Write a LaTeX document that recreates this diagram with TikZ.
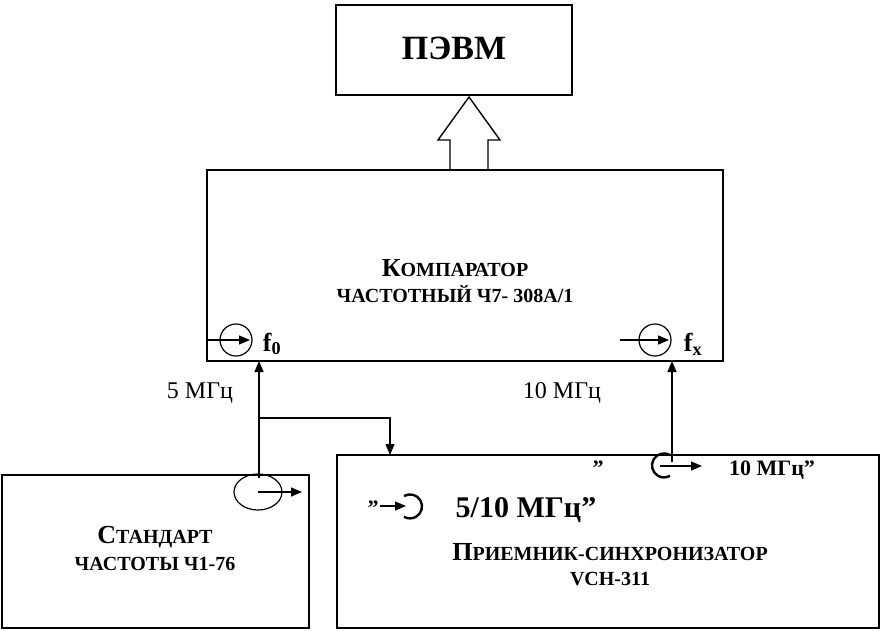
\documentclass[tikz,border=0pt]{standalone}
\usepackage{fontspec}
\setmainfont{Liberation Serif}
\usetikzlibrary{arrows.meta}
\tikzset{block/.style={draw, line width=1.4pt, inner sep=0pt},
  sig/.style={-{Triangle[length=11pt,width=9pt]}, line width=1.2pt},
  lbl/.style={font=\fontsize{24}{26}\selectfont},
  sc/.style={font=\fontsize{20}{22}\selectfont\bfseries}}
\newcommand{\capl}[1]{{\fontsize{26}{28}\selectfont #1}}
\newcommand{\qd}{\symbol{34}}
\begin{document}
\begin{tikzpicture}[x=1pt, y=-1pt]
    \useasboundingbox (0,0) rectangle (881,630);
    % blocks
    \draw [block] (336,5) rectangle (572,95);
    \node [font=\fontsize{34}{36}\selectfont\bfseries] (pevm) at (454,48) {ПЭВМ};
    \draw [block] (207,170) rectangle (723,361);
    \node [sc] (komp1) at (455,268) {\capl{К}ОМПАРАТОР};
    \node [sc] (komp2) at (455,294) {ЧАСТОТНЫЙ Ч7- 308А/1};
    \draw [block] (2,475) rectangle (309,628);
    \node [sc] (st1) at (155,537) {\capl{С}ТАНДАРТ};
    \node [sc] (st2) at (155,564) {ЧАСТОТЫ Ч1-76};
    \draw [block] (337,455) rectangle (879,628);
    \node [sc] (pr1) at (610,552) {\capl{П}РИЕМНИК-СИНХРОНИЗАТОР};
    \node [sc] (pr2) at (610,579) {VCH-311};
    % hollow bus arrow
    \draw [line width=1.4pt] (450,170) -- (450,140) -- (438,140) -- (469,97)
        -- (500,140) -- (488,140) -- (488,170);
    % connectors
    \coordinate (src) at (259,478);
    \coordinate (in0) at (259,361);
    \coordinate (brk) at (259,418);
    \coordinate (rin) at (390,455);
    \coordinate (rout) at (672,462);
    \coordinate (inx) at (672,361);
    \draw [sig] (src) -- (in0);
    \draw [sig] (brk) -| (rin);
    \draw [sig] (rout) -- (inx);
    % port symbols
    \draw [line width=1.2pt] (236,340) circle [radius=16pt];
    \draw [sig] (207,340) -- (250,340);
    \node [font=\fontsize{26}{28}\selectfont\bfseries] (f0) at (272,344) {f\textsubscript{0}};
    \draw [line width=1.2pt] (655,340) circle [radius=16pt];
    \draw [sig] (620,340) -- (669,340);
    \node [font=\fontsize{26}{28}\selectfont\bfseries] (fx) at (693,344) {f\textsubscript{x}};
    \draw [line width=1.2pt] (258,492) ellipse [x radius=24pt, y radius=18pt];
    \draw [sig] (258,492) -- (302,492);
    \draw [line width=2.4pt] (670,455) arc [start angle=60, end angle=300, radius=12pt];
    \draw [sig] (660,466) -- (702,466);
    \draw [line width=2.4pt] (404,496) arc [start angle=120, end angle=-120, radius=12pt];
    \draw [sig] (380,506) -- (406,506);
    % labels
    \node [lbl] (l5) at (200,393) {5 МГц};
    \node [lbl] (l10) at (562,393) {10 МГц};
    \node [lbl, font=\fontsize{22}{24}\selectfont\bfseries] (q1) at (598,468) {\qd};
    \node [lbl, font=\fontsize{22}{24}\selectfont\bfseries] (o10) at (772,470) {10 МГц\qd};
    \node [lbl, font=\fontsize{22}{24}\selectfont\bfseries] (q2) at (373,508) {\qd};
    \node [font=\fontsize{30}{32}\selectfont\bfseries] (o5) at (526,510) {5/10 МГц\qd};
\end{tikzpicture}
\end{document}
